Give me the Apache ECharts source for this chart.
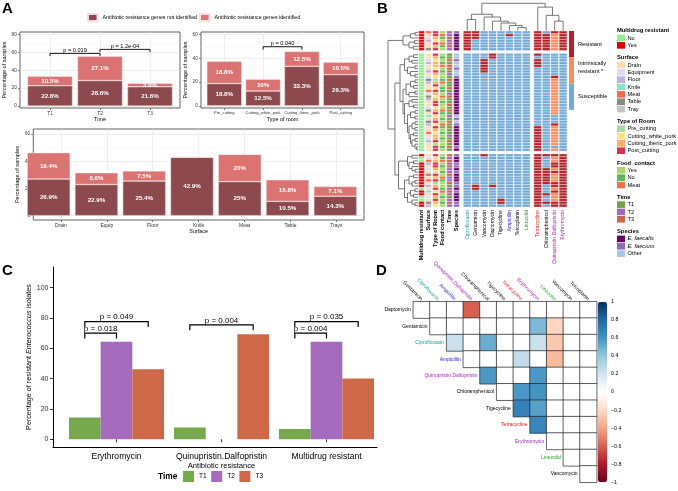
<!DOCTYPE html>
<html><head><meta charset="utf-8">
<script src="https://cdn.jsdelivr.net/npm/echarts@6.0.0/dist/echarts.min.js"></script>
<style>
html,body{margin:0;padding:0;background:#fff;overflow:hidden}
#wrap{position:relative;width:678px;height:491px;background:#fff}
.c{position:absolute;left:0;top:0;width:678px;height:491px}
</style></head><body>
<div id="wrap"><div id="cA" class="c"></div><div id="cB" class="c"></div><div id="cC" class="c"></div><div id="cD" class="c"></div></div>
<script>
const FONT = '"Liberation Sans", Arial, sans-serif';

// ---------------- Panel A data ----------------
const timeCats = ['T1', 'T2', 'T3'];
const timeNotId = [22.8, 28.6, 21.6];
const timeId = [10.5, 27.1, 3.9];
const roomCats = ['Pre_cutting', 'Cutting_white_pork', 'Cutting_iberic_pork', 'Post_cutting'];
const roomNotId = [18.8, 12.5, 33.3, 26.3];
const roomId = [18.8, 10, 12.5, 10.5];
const surfCats = ['Drain', 'Equip', 'Floor', 'Knife', 'Meat', 'Table', 'Trays'];
const surfNotId = [26.9, 22.9, 25.4, 42.9, 25, 10.5, 14.3];
const surfId = [19.4, 8.6, 7.5, 0, 20, 15.8, 7.1];
const timeTests = [[1, 2, 59, 'p = 0.019'], [2, 3, 63.5, 'p = 1.2e-04']];
const roomTests = [[2, 3, 49.8, 'p = 0.040']];
const yTicksA1 = [0, 20, 40, 60, 80];
const yMinorA1 = [10, 30, 50, 70];
const yTicksA2 = [0, 20, 40, 60];
const yMinorA2 = [10, 30, 50];

// ---------------- Panel B data ----------------
const annoNames = ['Multidrug resistant', 'Surface', 'Type of Room', 'Food contact', 'Time', 'Species'];
const abNames1 = ['Ciprofloxacin', 'Gentamicin', 'Vancomycin', 'Daptomycin', 'Tigecycline', 'Ampicillin', 'Teicoplanin', 'Linezolid'];
const abNames2 = ['Tetracycline', 'Chloramphenicol', 'Quinupristin.Dalfopristin', 'Erythromycin'];
const blockSizes = [7, 35, 19];
const mdrBlocks  = ['YYYYYYY', 'NNNNN NNNNN NNNNN NNNNN NNNNN NNNNN NNNNN', 'YNNYY YYYYY YYNYY NNYY'];
const surfBlocks = ['mdefddt', 'ddefd dfdet fddme tfdde tdkdt fddmd efddd', 'demfd edtdm dfdkd edtf'];
const roomBlocks = ['ooiwoio', 'oiwii woiwp iowoi wioow iowio woiwi iopoo', 'owioo iwoio piowo ioiw'];
const foodBlocks = ['ymnymny', 'ynynm ynyyn mynny mynyy mnyny mnyny nyyny', 'ynmyn ynymn yynmy nyny'];
const timeBlocks = ['2232232', '11313 31213 11312 31131 31213 13112 13131', '32323 22322 31232 1232'];
const specBlocks = ['baaaaaa', 'ooboo booba aaaaa aaaaa aaobo baaaa aaaba', 'baabb abaaa bbaba aabb'];
const cipBlocks = ['RRRRRRR', 'SSSSS SSSSS SSSSS SSSSS SSSSS SSSSS SSSSS', 'SSSSS SSSSS SSSSS SSSS'];
const genBlocks = ['RRRSSSS', 'SSSSS SSSSS SSSSS SSSSS SSSSS SSSSS SSSSS', 'SSSSS SSSSS SRRSS SSSS'];
const vanBlocks = ['SSSSSSS', 'SSRRR RRSSS SSSSS SSSSS SSSSS SSSSS SSSSS', 'RSSSS SSSSS SSSSS SSSS'];
const dapBlocks = ['SSSSSSS', 'RRSSS SSSSS SSSSS SSSSS SSSSS SSSSS SSSSS', 'SSSSS SSSSS SRSSS SSSS'];
const tigBlocks = ['SSSSSSS', 'SSSSS SSSSS SSSSS SSSSS SSSSS SSSSS SSSSS', 'SSSSS SSSSS SSSSS SRRS'];
const ampBlocks = ['SRSSSSS', 'SSSSS SSSSS SSSSS SSSSS SSSSS SSSSS SSSSS', 'SSSSS SSSSS SSSSS SSSS'];
const teiBlocks = ['SSSSSSS', 'SSSSS SSSSS SSSSS SSSSS SSSSS SSSSS SSSSS', 'SSSSS SSSSS SSSSS SSSS'];
const linBlocks = ['SSSSSSS', 'SSSSS SSSSS SSSSS SSSSS SSSSS SSSSS SSSSS', 'SSSSS SSSSS SSSSS SSSS'];
const tetBlocks = ['RRRRRRR', 'RSRRR SSSSS SSSSS SSSSS SSSSS SRRRR RRRRR', 'RRRRR RRRRR RRRRR RRRR'];
const chlBlocks = ['SRRRRRR', 'SSSSS SSSSS SSSSS SSSSS SSSSS SSSSS SSSSS', 'RSSSS RRRRR RSSSR SSRS'];
const qdBlocks  = ['RIIIIII', 'SSSSS SSSRI IIIII IIIII IISSS RIIII IIISI', 'RIIRR IRIII RRIRI IIRR'];
const eryBlocks = ['RRRRRRR', 'SSSSS SSSSS SSSSS SSSSS SSSSS SSSSS SSSSS', 'RRRRR RRRRR RRRRR RRRR'];
// dendrograms: [height, left, right], leaves = row / column index
const rowB1 = [5, [2.5, [1, 0, 1], 2], [3, [1.2, 3, 4], [1.6, 5, 6]]];
const rowP1 = [3, [1.5, 7, 8], [2, 9, 10]];
const rowP2 = [3.5, [1, 11, 12], [2.5, 13, [1, 14, 15]]];
const rowP3 = [2.5, [1, 16, 17], [1.5, 18, 19]];
const rowP4 = [3, [1, 20, 21], 22];
const rowP5 = [3, [2, 23, 24], [1.5, 25, 26]];
const rowP6 = [2.5, [1, 27, 28], [1, 29, 30]];
const rowP7 = [2, [1, 31, 32], [1, 33, 34]];
const rowP8 = [2.5, [1.5, 35, 36], [2, [1, 37, 38], [1, 39, [0.5, 40, 41]]]];
const rowB2 = [6, [4.5, rowP1, rowP2], [5, [4, rowP3, rowP4], [4.5, rowP5, [3.5, rowP6, [3, rowP7, rowP8]]]]];
const rowQ1 = [3.5, [2, 42, 43], [3, [1.5, 44, 45], [2, 46, [1, 47, 48]]]];
const rowQ2 = [3, [1.5, 49, 50], [2, [1, 51, 52], 53]];
const rowQ3 = [3.5, [2.5, [1, 54, 55], [1.5, 56, 57]], [2, 58, [1, 59, 60]]];
const rowB3 = [6.5, rowQ1, [4.5, rowQ2, rowQ3]];
const rowTree = [10, rowB1, [7.7, rowB2, rowB3]];
const colTree = [10, [6, [4.1, 0, 1], [5, 2, [3.5, 3, [2.8, 4, [1.9, 5, [1.15, 6, 7]]]]]], [8.6, 8, [5.6, 9, [3.5, 10, 11]]]];

// ---------------- Panel C data ----------------
const cCats = ['Erythromycin', 'Quinupristin.Dalfopristin', 'Multidrug resistant'];
const cT1 = [14.3, 7.7, 6.7];
const cT2 = [64.3, 0, 64.3];
const cT3 = [46.2, 69.2, 40];
const cTests = [[0, 0, 2, 77.6, 'p = 0.049'], [0, 0, 1, 70, 'p = 0.018'], [1, 0, 2, 75.4, 'p = 0.004'], [2, 0, 2, 77.6, 'p = 0.035'], [2, 0, 1, 70, 'p = 0.004']];
const cYTicks = [0, 20, 40, 60, 80, 100];

// ---------------- Panel D data ----------------
const dRowNames = ['Daptomycin', 'Gentamicin', 'Ciprofloxacin', 'Ampicillin', 'Quinupristin.Dalfopristin', 'Chloramphenicol', 'Tigecycline', 'Tetracycline', 'Erythromycin', 'Linezolid', 'Vancomycin'];
const dColNames = ['Gentamicin', 'Ciprofloxacin', 'Ampicillin', 'Quinupristin.Dalfopristin', 'Chloramphenicol', 'Tigecycline', 'Tetracycline', 'Erythromycin', 'Linezolid', 'Vancomycin', 'Teicoplanin'];
const dCorr = [
  [0, 0, 0, -0.6, 0, 0, 0, 0, 0, 0, 0],
  [0, 0, 0, 0, 0, 0, 0.45, -0.22, 0, 0],
  [0.22, 0, 0.5, 0, 0, 0.22, -0.27, 0, 0],
  [0, 0, 0, 0.25, 0, -0.32, 0, 0],
  [0.58, 0, 0, 0.58, 0, 0, 0],
  [0, 0.58, 0.6, 0, 0, 0],
  [0.68, 0.55, 0, 0, 0],
  [0.66, 0, 0, 0],
  [0, 0, 0],
  [0, 0],
  [0]
];
const cbTicks = [1, 0.8, 0.6, 0.4, 0.2, 0, -0.2, -0.4, -0.6, -0.8, -1];

// ---------------- styles ----------------
const DARK = '#8D4A4E', LIGHT = '#DB7372';
const NOT_ID = 'Antibiotic resistance genes not identified';
const ID = 'Antibiotic resistance genes identified';
const TCOL = ['#76A84C', '#A56BBC', '#CD6849'];
const RDBU = ['#67001F', '#B2182B', '#D6604D', '#F4A582', '#FDDBC7', '#FFFFFF', '#D1E5F0', '#92C5DE', '#4393C3', '#2166AC', '#053061'];
const abColor = {'Ciprofloxacin': '#1E9E9E', 'Ampicillin': '#2626E0', 'Quinupristin.Dalfopristin': '#A626B4', 'Tetracycline': '#E0201C', 'Erythromycin': '#A626B4', 'Linezolid': '#22A022'};
const resColors = {R: '#B3232A', I: '#F98D5D', S: '#73AAD6'};
const mdrColors = {N: '#90EE90', Y: '#E00000'};
const surfColors = {d: '#FDDBB3', e: '#DCDCEE', f: '#BCB3DA', k: '#86E3C8', m: '#F26A50', t: '#8B8B78', y: '#C4C4C4'};
const roomColors = {p: '#A6DBA0', w: '#FEE08B', i: '#FDAE61', o: '#D6304D'};
const foodColors = {y: '#A6D96A', n: '#5DB560', m: '#F46D43'};
const timeColors = {'1': '#6F9F43', '2': '#A268BE', '3': '#CB6A4B'};
const specColors = {a: '#6A006A', b: '#8F6BBF', o: '#A8C4E8'};

function panelLabel(t, x, y) {
  return {type: 'text', x: x, y: y, style: {text: t, fontSize: 15, fontWeight: 'bold', fill: '#000', fontFamily: FONT}};
}

// ================= Chart A =================
// frame grids (value axes: gridlines, ticks, labels) + inset bar grids (category axes)
const aFrames = [
  {left: 20, top: 32, width: 160, height: 76, cats: timeCats, ymin: -2.2, ymax: 83},
  {left: 201, top: 32, width: 163, height: 76, cats: roomCats, ymin: -1.8, ymax: 62.2},
  {left: 20, top: 129, width: 344, height: 91, cats: surfCats, ymin: -3.2, ymax: 63.7}
];
function barGridOf(f) {
  const u = f.width / (f.cats.length + 0.2);
  return {left: f.left + 0.1 * u, top: f.top, width: f.cats.length * u, height: f.height};
}
function aXAxis(gi, cats, name, fs) {
  const vals = cats.map((c, i) => i + 1);
  return {type: 'value', gridIndex: gi, min: 0.4, max: cats.length + 0.6, minInterval: 1, maxInterval: 1,
    axisLine: {show: false, onZero: false},
    axisTick: {show: true, customValues: vals, length: 2, lineStyle: {color: '#333', width: 0.6}},
    axisLabel: {customValues: vals, formatter: v => cats[Math.round(v) - 1] || '', fontSize: fs, color: '#333', margin: 3, fontFamily: FONT},
    splitLine: {show: true, lineStyle: {color: '#e4e4e4', width: 0.6}},
    name: name, nameLocation: 'middle', nameGap: 9.5, nameTextStyle: {fontSize: 5.4, color: '#000', fontFamily: FONT}};
}
function aYAxes(gi, min, max, ticks, minor, gap) {
  return [
    {type: 'value', gridIndex: gi, min: min, max: max, minInterval: 20, maxInterval: 20,
      axisLine: {show: false, onZero: false},
      axisTick: {show: true, customValues: ticks, length: 2, lineStyle: {color: '#333', width: 0.6}},
      axisLabel: {customValues: ticks, fontSize: 4.6, color: '#333', margin: 3.3, fontFamily: FONT},
      splitLine: {show: true, lineStyle: {color: '#e4e4e4', width: 0.6}},
      name: 'Percentage of samples', nameLocation: 'middle', nameGap: gap, nameTextStyle: {fontSize: 5.6, color: '#000', fontFamily: FONT}},
    {type: 'value', gridIndex: gi, min: min, max: max, minInterval: 10, maxInterval: 10,
      axisLine: {show: false, onZero: false}, axisTick: {show: false, customValues: minor},
      axisLabel: {show: false, customValues: minor},
      splitLine: {show: true, lineStyle: {color: '#f0f0f0', width: 0.4}}}
  ];
}
function aBars(gi, notId, idv) {
  const lab = {show: true, position: 'inside', color: '#fff', fontSize: 6.2, fontWeight: 'bold', fontFamily: FONT,
    formatter: p => p.value ? p.value + '%' : ''};
  return [
    {type: 'bar', name: NOT_ID, xAxisIndex: 3 + gi, yAxisIndex: 6 + gi, stack: 's' + gi, barWidth: '90%',
      data: notId, itemStyle: {color: DARK, borderColor: '#f2dede', borderWidth: 0.5}, label: lab, z: 3},
    {type: 'bar', name: ID, xAxisIndex: 3 + gi, yAxisIndex: 6 + gi, stack: 's' + gi, barWidth: '90%',
      data: idv, itemStyle: {color: LIGHT, borderColor: '#f6e2e2', borderWidth: 0.5}, label: lab, z: 3}
  ];
}
function aTests(gi, tests, tick) {
  return {type: 'custom', xAxisIndex: gi, yAxisIndex: gi * 2, z: 6, silent: true,
    data: tests.map(t => [t[0], t[2], t[1]]),
    renderItem: (params, api) => {
      const t = tests[params.dataIndex];
      const p1 = api.coord([t[0], t[2]]), p2 = api.coord([t[1], t[2]]);
      const q1 = api.coord([t[0], t[2] - tick]), q2 = api.coord([t[1], t[2] - tick]);
      return {type: 'group', children: [
        {type: 'polyline', shape: {points: [q1, p1, p2, q2]}, style: {stroke: '#000', lineWidth: 0.9, fill: null}},
        {type: 'text', x: (p1[0] + p2[0]) / 2, y: p1[1] - 0.3, style: {text: t[3], fill: '#000', fontSize: 5.6, fontFamily: FONT, align: 'center', verticalAlign: 'bottom'}}
      ]};
    }};
}
const gridBox = {show: true, borderColor: '#3a3a3a', borderWidth: 0.8, backgroundColor: 'rgba(0,0,0,0)'};
const optA = {
  animation: false,
  textStyle: {fontFamily: FONT},
  legend: {data: [NOT_ID, ID], left: 87, top: 13, itemWidth: 9.5, itemHeight: 7, itemGap: 2, icon: 'rect', padding: 0,
    selectedMode: false, textStyle: {fontSize: 5.3, color: '#000', fontFamily: FONT}},
  grid: aFrames.map(f => Object.assign({left: f.left, top: f.top, width: f.width, height: f.height}, gridBox))
    .concat(aFrames.map(barGridOf)),
  xAxis: [aXAxis(0, timeCats, 'Time', 4.8), aXAxis(1, roomCats, 'Type of room', 4.1), aXAxis(2, surfCats, 'Surface', 5)]
    .concat(aFrames.map((f, i) => ({type: 'category', gridIndex: 3 + i, data: f.cats, show: false}))),
  yAxis: [].concat(aYAxes(0, aFrames[0].ymin, aFrames[0].ymax, yTicksA1, yMinorA1, 13),
      aYAxes(1, aFrames[1].ymin, aFrames[1].ymax, yTicksA2, yMinorA2, 10),
      aYAxes(2, aFrames[2].ymin, aFrames[2].ymax, yTicksA2, yMinorA2, 13))
    .concat(aFrames.map((f, i) => ({type: 'value', gridIndex: 3 + i, min: f.ymin, max: f.ymax, show: false}))),
  series: [].concat(aBars(0, timeNotId, timeId), aBars(1, roomNotId, roomId), aBars(2, surfNotId, surfId),
    [aTests(0, timeTests, 3), aTests(1, roomTests, 2.5)]),
  graphic: [panelLabel('A', 2, 1)]
};
echarts.init(document.getElementById('cA')).setOption(optA);

// ================= Chart B =================
function blocks(arr) { return arr.join('').replace(/\s/g, ''); }
function rowPos(r) { const b1 = blockSizes[0], b12 = blockSizes[0] + blockSizes[1]; return r + (r >= b1 ? 1 : 0) + (r >= b12 ? 1 : 0); }
const annoCols = [mdrBlocks, surfBlocks, roomBlocks, foodBlocks, timeBlocks, specBlocks].map(blocks);
const annoMaps = [mdrColors, surfColors, roomColors, foodColors, timeColors, specColors];
const ab1Cols = [cipBlocks, genBlocks, vanBlocks, dapBlocks, tigBlocks, ampBlocks, teiBlocks, linBlocks].map(blocks);
const ab2Cols = [tetBlocks, chlBlocks, qdBlocks, eryBlocks].map(blocks);
const NROWPOS = blockSizes[0] + blockSizes[1] + blockSizes[2] + 2;
const COL_GAP = 0.36;

function cellSeries(gi, cols, mapFor, frac) {
  const data = [], colors = [];
  cols.forEach((s, k) => { for (let r = 0; r < s.length; r++) { data.push([k, rowPos(r)]); colors.push(mapFor(k)[s[r]]); } });
  return {type: 'custom', xAxisIndex: gi, yAxisIndex: gi, data: data, silent: true,
    renderItem: (params, api) => {
      const c = api.coord([api.value(0), api.value(1)]);
      const sz = api.size([1, 1]);
      const w = sz[0] * frac;
      return {type: 'rect', shape: {x: c[0] - w / 2, y: c[1], width: w, height: sz[1]},
        style: {fill: colors[params.dataIndex], stroke: '#fff', lineWidth: 0.35}};
    }};
}
function dendSegs(tree, leafPos) {
  const segs = [];
  (function walk(n) {
    if (typeof n === 'number') return {p: leafPos(n), h: 0};
    const a = walk(n[1]), b = walk(n[2]);
    segs.push([a.p, a.h, b.p, b.h, n[0]]);
    return {p: (a.p + b.p) / 2, h: n[0]};
  })(tree);
  return segs;
}
const rowSegs = dendSegs(rowTree, r => rowPos(r) + 0.5);
const colSegs = dendSegs(colTree, j => j + 0.5 + (j >= abNames1.length ? COL_GAP : 0));
function dendSeries(gi, segs, horizontal) {
  return {type: 'custom', xAxisIndex: gi, yAxisIndex: gi, data: segs, silent: true,
    renderItem: (params, api) => {
      const v = i => api.value(i);
      const pt = (p, h) => horizontal ? api.coord([h, p]) : api.coord([p, h]);
      return {type: 'polyline', shape: {points: [pt(v(0), v(1)), pt(v(0), v(4)), pt(v(2), v(4)), pt(v(2), v(3))]},
        style: {stroke: '#555', lineWidth: 0.8, fill: null}};
    }};
}
const legendGroups = [
  {title: 'Multidrug resistant', keys: ['N', 'Y'], labels: ['No', 'Yes'], map: mdrColors},
  {title: 'Surface', keys: ['d', 'e', 'f', 'k', 'm', 't', 'y'], labels: ['Drain', 'Equipment', 'Floor', 'Knife', 'Meat', 'Table', 'Tray'], map: surfColors},
  {title: 'Type of Room', keys: ['p', 'w', 'i', 'o'], labels: ['Pre_cutting', 'Cutting_white_pork', 'Cutting_iberic_pork', 'Post_cutting'], map: roomColors},
  {title: 'Food  contact', keys: ['y', 'n', 'm'], labels: ['Yes', 'No', 'Meat'], map: foodColors},
  {title: 'Time', keys: ['1', '2', '3'], labels: ['T1', 'T2', 'T3'], map: timeColors},
  {title: 'Species', keys: ['a', 'b', 'o'], labels: ['E. faecalis', 'E. faecium', 'Other'], map: specColors, italic: true}
];
const resLegend = [['Resistant', 'R'], ['Intrinsically\nresistant *', 'I'], ['Susceptible', 'S']];
const bGraphic = [panelLabel('B', 377, 1)];
(function () {
  let y = 30.7;
  legendGroups.forEach(g => {
    bGraphic.push({type: 'text', x: 617, y: y, style: {text: g.title, fontSize: 5.8, fontWeight: 'bold', fill: '#000', fontFamily: FONT, align: 'left', verticalAlign: 'middle'}});
    y += 7.3;
    g.keys.forEach((k, i) => {
      bGraphic.push({type: 'rect', shape: {x: 617, y: y - 3.3, width: 8, height: 6.6}, style: {fill: g.map[k]}});
      const it = g.italic && g.labels[i].indexOf('E.') === 0;
      bGraphic.push({type: 'text', x: 627.5, y: y, style: {text: g.labels[i], fontSize: 5.7, fill: '#000', fontStyle: it ? 'italic' : 'normal', fontFamily: FONT, align: 'left', verticalAlign: 'middle'}});
      y += 7.35;
    });
    y += 12.3 - 7.35;
  });
  const top = 31, h = 26.3;
  resLegend.forEach((e, i) => {
    bGraphic.push({type: 'rect', shape: {x: 569, y: top + i * h, width: 5, height: h}, style: {fill: resColors[e[1]]}});
    bGraphic.push({type: 'text', x: 578, y: top + i * h + h / 2 - (i === 1 ? 3 : 0), style: {text: e[0], fontSize: 5.7, lineHeight: 7.5, fill: '#000', fontFamily: FONT, align: 'left', verticalAlign: 'middle'}});
  });
})();
const hidVal = (gi, min, max, inv) => ({type: 'value', gridIndex: gi, min: min, max: max, inverse: !!inv, show: false});
const catX = (gi, names, bold, colorFn) => ({type: 'category', gridIndex: gi, data: names,
  axisLine: {show: false}, axisTick: {show: false}, splitLine: {show: false},
  axisLabel: {interval: 0, rotate: 90, fontSize: bold ? 5.6 : 5.1, fontWeight: bold ? 'bold' : 'normal', margin: 3, fontFamily: FONT,
    color: colorFn}});
const optB = {
  animation: false,
  grid: [
    {left: 418, top: 31, width: 42, height: 176},
    {left: 463, top: 31, width: 67.5, height: 176},
    {left: 533.5, top: 31, width: 33.8, height: 176},
    {left: 388, top: 31, width: 30, height: 176},
    {left: 463, top: 3.3, width: 104.3, height: 27.4}
  ],
  xAxis: [
    catX(0, annoNames, true, () => '#000'),
    catX(1, abNames1, false, v => abColor[v] || '#000'),
    catX(2, abNames2, false, v => abColor[v] || '#000'),
    hidVal(3, 0, 10, true),
    hidVal(4, 0, abNames1.length + abNames2.length + COL_GAP)
  ],
  yAxis: [hidVal(0, 0, NROWPOS, true), hidVal(1, 0, NROWPOS, true), hidVal(2, 0, NROWPOS, true), hidVal(3, 0, NROWPOS, true), hidVal(4, 0, 10)],
  series: [
    cellSeries(0, annoCols, k => annoMaps[k], 0.8),
    cellSeries(1, ab1Cols, () => resColors, 0.92),
    cellSeries(2, ab2Cols, () => resColors, 0.92),
    dendSeries(3, rowSegs, true),
    dendSeries(4, colSegs, false)
  ],
  graphic: bGraphic
};
echarts.init(document.getElementById('cB')).setOption(optB);

// ================= Chart C =================
const C_GAP = 0.095;
const optC = {
  animation: false,
  textStyle: {fontFamily: FONT},
  grid: [{left: 64, top: 267, width: 315, height: 180}, {left: 53, top: 267, width: 324, height: 180}],
  xAxis: [
    {type: 'category', gridIndex: 0, data: cCats, axisLine: {show: false},
      axisTick: {show: true, alignWithLabel: true, length: 3, lineStyle: {color: '#333'}},
      axisLabel: {interval: 0, fontSize: 8.6, color: '#000', margin: 5, fontFamily: FONT},
      name: 'Antibiotic resistance', nameLocation: 'middle', nameGap: 15, nameTextStyle: {fontSize: 7.6, color: '#000', fontFamily: FONT}},
    {type: 'value', gridIndex: 1, min: 0, max: 1, axisLine: {show: true, onZero: false, lineStyle: {color: '#000', width: 1}},
      axisTick: {show: false}, axisLabel: {show: false}, splitLine: {show: false}}
  ],
  yAxis: [
    {type: 'value', gridIndex: 0, min: -5.1, max: 113.6, show: false},
    {type: 'value', gridIndex: 1, min: -5.1, max: 113.6, minInterval: 20, maxInterval: 20,
      axisLine: {show: true, onZero: false, lineStyle: {color: '#000', width: 1}},
      axisTick: {show: true, customValues: cYTicks, length: 3, lineStyle: {color: '#333'}},
      axisLabel: {customValues: cYTicks, fontSize: 7, color: '#333', margin: 4.5, fontFamily: FONT},
      splitLine: {show: false},
      name: '{a|Percentage of resistant }{b|Enterococcus}{a| isolates}', nameLocation: 'middle', nameGap: 17,
      nameTextStyle: {fontSize: 7.2, color: '#000', fontFamily: FONT,
        rich: {a: {fontSize: 7.2, color: '#000', fontFamily: FONT}, b: {fontSize: 7.2, color: '#000', fontStyle: 'italic', fontFamily: FONT}}}}
  ],
  legend: {data: ['T1', 'T2', 'T3'], left: 183, top: 471, itemWidth: 11, itemHeight: 11, itemGap: 4.5, icon: 'rect', padding: 0,
    selectedMode: false, textStyle: {fontSize: 6.6, color: '#000', fontFamily: FONT}},
  series: [
    {type: 'bar', name: 'T1', data: cT1, barGap: '0%', barCategoryGap: (C_GAP * 100) + '%', itemStyle: {color: TCOL[0]}},
    {type: 'bar', name: 'T2', data: cT2, barGap: '0%', barCategoryGap: (C_GAP * 100) + '%', itemStyle: {color: TCOL[1]}},
    {type: 'bar', name: 'T3', data: cT3, barGap: '0%', barCategoryGap: (C_GAP * 100) + '%', itemStyle: {color: TCOL[2]}},
    {type: 'custom', xAxisIndex: 0, yAxisIndex: 0, silent: true, z: 6, data: cTests.map(t => [t[0], t[3]]),
      renderItem: (params, api) => {
        const t = cTests[params.dataIndex];
        const bw = api.size([1, 0])[0] * (1 - C_GAP) / 3;
        const c0 = api.coord([t[0], t[3]]);
        const yb = api.coord([t[0], t[3] - 3.5])[1];
        const xa = c0[0] + (t[1] - 1) * bw, xb = c0[0] + (t[2] - 1) * bw;
        return {type: 'group', children: [
          {type: 'polyline', shape: {points: [[xa, yb], [xa, c0[1]], [xb, c0[1]], [xb, yb]]}, style: {stroke: '#000', lineWidth: 1.2, fill: null}},
          {type: 'text', x: (xa + xb) / 2, y: c0[1] - 0.3, style: {text: t[4], fill: '#000', fontSize: 8, fontFamily: FONT, align: 'center', verticalAlign: 'bottom'}}
        ]};
      }}
  ],
  graphic: [panelLabel('C', 2, 263),
    {type: 'text', x: 158, y: 476.5, style: {text: 'Time', fontSize: 8.4, fontWeight: 'bold', fill: '#000', fontFamily: FONT, verticalAlign: 'middle'}}]
};
echarts.init(document.getElementById('cC')).setOption(optC);

// ================= Chart D =================
const dCells = [];
dCorr.forEach((row, i) => row.forEach((v, k) => dCells.push([i + k, i, v])));
const optD = {
  animation: false,
  textStyle: {fontFamily: FONT},
  grid: [{left: 413.3, top: 301.7, width: 183.4, height: 180.6}, {left: 598, top: 301.7, width: 9, height: 180.6}],
  xAxis: [
    {type: 'category', gridIndex: 0, data: dColNames, position: 'top', axisLine: {show: false}, axisTick: {show: false}, splitLine: {show: false},
      axisLabel: {interval: 0, rotate: 45, fontSize: 5, margin: 2, fontFamily: FONT, color: v => abColor[v] || '#000'}},
    {type: 'value', gridIndex: 1, min: 0, max: 1, show: false}
  ],
  yAxis: [
    {type: 'category', gridIndex: 0, data: dRowNames, inverse: true, show: false},
    {type: 'value', gridIndex: 1, min: -1, max: 1, position: 'right', axisLine: {show: false}, axisTick: {show: false}, splitLine: {show: false},
      axisLabel: {customValues: cbTicks, fontSize: 5.3, color: '#000', margin: 4, fontFamily: FONT,
        formatter: v => String(Math.round(v * 10) / 10).replace('-', '\u2212')}}
  ],
  visualMap: {type: 'continuous', min: -1, max: 1, seriesIndex: 0, dimension: 2, inRange: {color: RDBU},
    left: 598, top: 301.7, itemWidth: 9, itemHeight: 180.6, calculable: false, show: true, padding: 0, text: null, showLabel: false, orient: 'vertical'},
  series: [
    {type: 'heatmap', xAxisIndex: 0, yAxisIndex: 0, data: dCells, silent: true, itemStyle: {borderColor: '#222', borderWidth: 0.7}},
    {type: 'custom', xAxisIndex: 0, yAxisIndex: 0, silent: true, data: dRowNames.map((n, i) => [i, i]),
      renderItem: (params, api) => {
        const c = api.coord([api.value(0), api.value(1)]);
        const bw = api.size([1, 1])[0];
        const n = dRowNames[params.dataIndex];
        return {type: 'text', x: c[0] - bw / 2 - 2.5, y: c[1], style: {text: n, fill: abColor[n] || '#000', fontSize: 5, fontFamily: FONT, align: 'right', verticalAlign: 'middle'}};
      }}
  ],
  graphic: [panelLabel('D', 376, 263)]
};
echarts.init(document.getElementById('cD')).setOption(optD);
</script></body></html>
